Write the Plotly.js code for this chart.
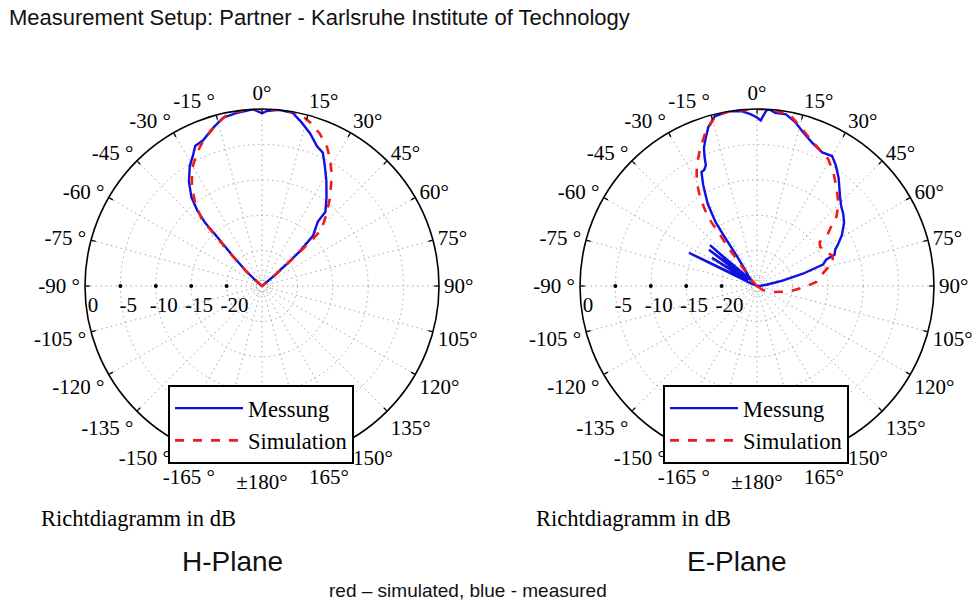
<!DOCTYPE html>
<html>
<head>
<meta charset="utf-8">
<script src="https://cdn.plot.ly/plotly-3.0.1.min.js"></script>
<style>html,body{margin:0;padding:0;background:#fff;}#chart{width:975px;height:602px;}</style>
</head>
<body>
<div id="chart"></div>
<script>
// ---- Data (angle in degrees, value in dB) ----
const hMeasTheta = [-90,-70,-55,-50,-47,-44,-42.5,-42,-40.5,-38.5,-35,-31,-28,-25.5,-22,-17.5,-13,-8.5,-3,0,1.5,5.5,10,13.5,17.5,21.5,24.5,27.5,31.5,36,40.5,41,45.5,47.5,48.5,50,53,70,90];
const hMeasDb    = [-25,-25,-25,-24,-21.9,-18.9,-16,-13,-10.9,-9,-7,-5.2,-4.2,-3.1,-2.8,-1.7,-0.6,-0.3,0,-0.6,-0.3,0,-0.15,-1.2,-2.4,-3.8,-4.3,-5.8,-7.6,-9.5,-11.2,-13,-14.9,-17.8,-20.4,-23,-25,-25,-25];

const hSimTheta = [-90,-55,-50,-47,-44.5,-43,-42.2,-39,-34.7,-30.8,-26,-21.8,-16.2,-10.8,-3,0,5,12,16.3,20.8,25,28.2,32.2,37.5,41.7,46.4,47.3,48,49,50.5,53,90];
const hSimDb    = [-25,-25,-24.5,-22,-19,-16,-12.4,-10,-7.6,-5.7,-4.05,-2.8,-1.4,-0.1,0,0,0,0,-0.9,-2.0,-3.3,-4.65,-6.5,-9.2,-11.25,-13.4,-15.2,-17.8,-20.4,-23,-25,-25];

const eMeasTheta = [-90,-75,-70,-66,-64,-62,-60,-58,-56,-53,-51,-49,-45,-40,-36,-34,-33.5,-33,-31,-28,-26,-24.5,-23,-22,-21,-19,-17,-14,-9,-5,-2,0,1.3,3,4,6,9.6,13,16.6,21,26,30,33,37,43,47,50,54,59,63,65,68,69,72,75,78,82,86,90];
const eMeasDb    = [-25,-25,-25,-24,-14.3,-23,-23,-17.5,-23.5,-16.5,-22.5,-16.2,-24,-23,-22,-20,-17,-14.3,-11.5,-8.8,-7.1,-7.0,-6.5,-5.2,-4.1,-2.8,-1.5,-0.3,0,-0.2,-0.75,-1.2,-1.6,-0.2,0,-0.4,-0.4,-1.2,-2.3,-3.3,-4.0,-3.8,-4.6,-5.85,-7.8,-8.7,-9.1,-9.8,-11,-12.2,-12.8,-13.2,-14.5,-15.2,-18.3,-21.3,-23.5,-24.5,-25];

const eSimTheta = [-90,-50,-42,-37,-37,-35.6,-35.6,-34.4,-32.7,-30,-26.6,-22.7,-18.8,-13.8,-9,0,4,10.7,14.8,19.6,24.7,29.3,33.7,39,44.7,48.9,50.5,53.5,55,58,63,68,73,78,86,92,100,110,125,140];
const eSimDb    = [-25,-25,-23.3,-20.6,-18.4,-15.7,-14,-12,-10.1,-7.95,-6,-4.1,-2.25,-0.3,0,0,0,-0.35,-1.55,-2.85,-3.8,-4.45,-5.6,-7.15,-8.65,-10.1,-11.2,-12.5,-14.2,-14.5,-14.3,-13.5,-13.8,-15.3,-16.6,-18.5,-20.4,-22.5,-24,-25];

const angTickVals = [0,15,30,45,60,75,90,105,120,135,150,165,180,195,210,225,240,255,270,285,300,315,330,345];
const angTickText = ['0°','15°','30°','45°','60°','75°','90°','105°','120°','135°','150°','165°','±180°',
  '-165 °','-150 °','-135 °','-120 °','-105 °','-90 °','-75 °','-60 °','-45 °','-30 °','-15 °'];
const radTickVals = [-23.8,-20,-15,-10,-5,0];
const radTickText = ['','-20','-15','-10','-5','0'];
const radDotVals = [-20,-15,-10,-5];
const radDotAngle = -90;

const seriesNames = ['Messung','Simulation'];
const colMeas = '#1010e0';
const colSim = '#ee1c1c';

const serif = 'Liberation Serif, Times New Roman, serif';
const sans = 'Liberation Sans, Arial, sans-serif';
const pad = '\u00a0\u00a0\u00a0';

function polarCfg(cx){
  const R = 177, cy = 286;
  return {
    domain: {x:[(cx-R)/975, (cx+R)/975], y:[(602-cy-R)/602, (602-cy+R)/602]},
    bgcolor: '#fff',
    angularaxis: {
      rotation: 90, direction: 'clockwise',
      tickmode: 'array', tickvals: angTickVals, ticktext: angTickText,
      tickfont: {family: serif, size: 21, color: '#000'},
      showline: true, linecolor: '#000', linewidth: 1.6,
      ticks: 'inside', ticklen: 4, tickcolor: '#000', tickwidth: 1.3,
      showgrid: true, gridcolor: '#a8a8a8', griddash: '1.5px,3.5px', gridwidth: 1
    },
    radialaxis: {
      range: [-25, 0], angle: 180, side: 'counterclockwise', tickangle: 180,
      tickmode: 'array', tickvals: radTickVals, ticktext: radTickText.map(t => t ? pad + t : t),
      tickfont: {family: serif, size: 21, color: '#000'},
      showline: false, ticks: '',
      showgrid: true, gridcolor: '#a8a8a8', griddash: '1.5px,3.5px', gridwidth: 1
    }
  };
}

function dots(sub){
  return {type:'scatterpolar', mode:'markers', subplot:sub, showlegend:false, hoverinfo:'skip',
    theta: radDotVals.map(() => radDotAngle), r: radDotVals,
    marker:{size:4, color:'#000'}};
}

const traces = [
  dots('polar'), dots('polar2'),
  {type:'scatterpolar', mode:'lines', theta:hMeasTheta, r:hMeasDb, subplot:'polar', legend:'legend',
   name:seriesNames[0], line:{color:colMeas, width:2.4}},
  {type:'scatterpolar', mode:'lines', theta:hSimTheta, r:hSimDb, subplot:'polar', legend:'legend',
   name:seriesNames[1], line:{color:colSim, width:2.6, dash:'dash'}},
  {type:'scatterpolar', mode:'lines', theta:eMeasTheta, r:eMeasDb, subplot:'polar2', legend:'legend2',
   name:seriesNames[0], line:{color:colMeas, width:2.4}},
  {type:'scatterpolar', mode:'lines', theta:eSimTheta, r:eSimDb, subplot:'polar2', legend:'legend2',
   name:seriesNames[1], line:{color:colSim, width:2.6, dash:'dash'}}
];

function legendCfg(x){
  return {
    x: x/975, y: (602-385)/602, xanchor:'left', yanchor:'top',
    bgcolor:'#fff', bordercolor:'#000', borderwidth:2,
    font:{family: serif, size: 22.5, color:'#000'},
    itemwidth: 68, traceorder:'normal'
  };
}

const layout = {
  width: 975, height: 602,
  margin: {l:0, r:0, t:0, b:0},
  paper_bgcolor: '#fff',
  showlegend: true,
  title: {text:'Measurement Setup: Partner - Karlsruhe Institute of Technology',
    x: 9/975, xanchor:'left', y: (602-17)/602, yanchor:'middle',
    font:{family: sans, size: 22, color:'#111'}},
  polar: polarCfg(262),
  polar2: polarCfg(757),
  legend: legendCfg(168),
  legend2: legendCfg(663),
  annotations: [
    {text:'Richtdiagramm in dB', xref:'paper', yref:'paper', x:39/975, y:(602-518)/602, xanchor:'left', yanchor:'middle', showarrow:false, font:{family:serif, size:22.5, color:'#000'}},
    {text:'Richtdiagramm in dB', xref:'paper', yref:'paper', x:534/975, y:(602-518)/602, xanchor:'left', yanchor:'middle', showarrow:false, font:{family:serif, size:22.5, color:'#000'}},
    {text:'H-Plane', xref:'paper', yref:'paper', x:232/975, y:(602-561)/602, xanchor:'center', yanchor:'middle', showarrow:false, font:{family:sans, size:28, color:'#111'}},
    {text:'E-Plane', xref:'paper', yref:'paper', x:737/975, y:(602-561)/602, xanchor:'center', yanchor:'middle', showarrow:false, font:{family:sans, size:28, color:'#111'}},
    {text:'red – simulated, blue - measured', xref:'paper', yref:'paper', x:468/975, y:(602-590)/602, xanchor:'center', yanchor:'middle', showarrow:false, font:{family:sans, size:19, color:'#111'}}
  ]
};

Plotly.newPlot('chart', traces, layout, {displayModeBar:false, staticPlot:true});
</script>
</body>
</html>
